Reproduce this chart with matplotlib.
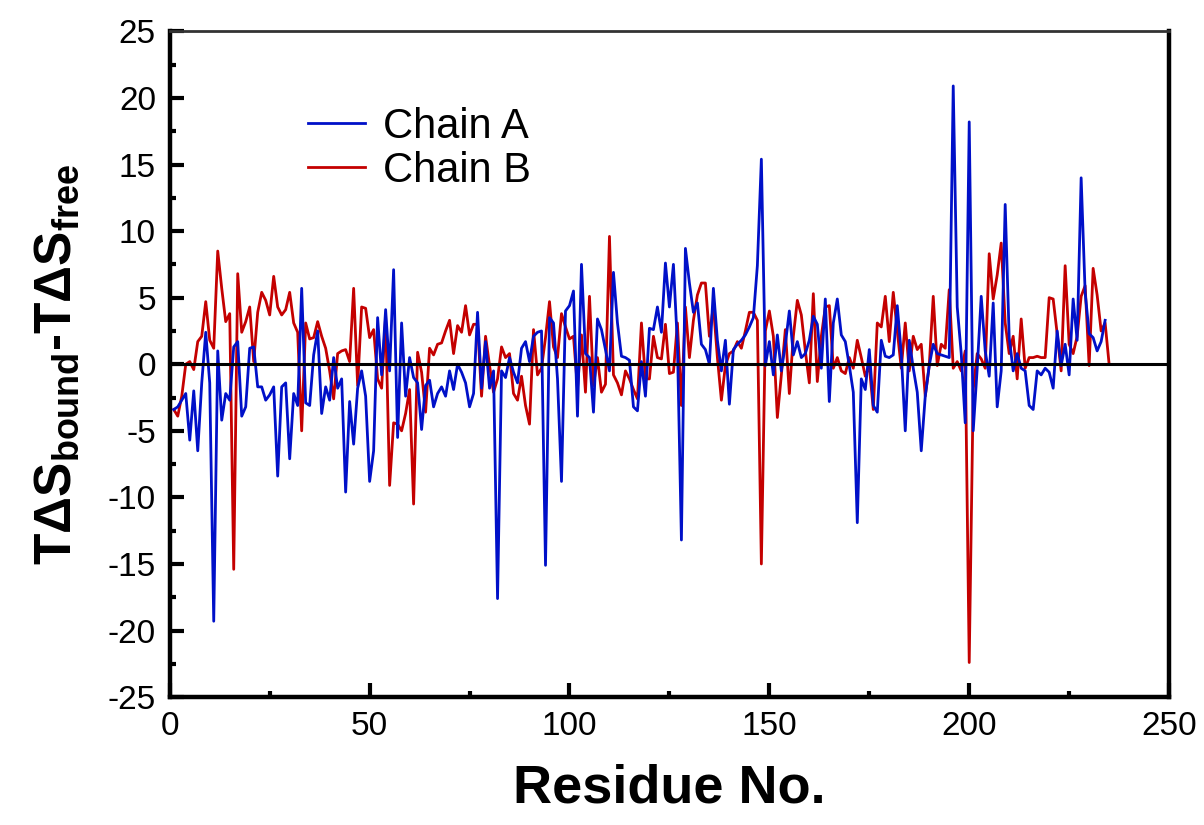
import matplotlib
matplotlib.use("Agg")
import matplotlib.pyplot as plt
from matplotlib.ticker import MultipleLocator

# T*dS(bound) - T*dS(free) per residue
chain_a = [
    -3.4, -3.2, -2.7, -2.2, -5.7, -2.0, -6.5, -1.4, 2.4, -1.4,
    -19.3, 1.0, -4.2, -2.2, -2.7, 1.3, 1.7, -3.9, -3.2, 1.2,
    1.3, -1.7, -1.7, -2.7, -2.3, -1.7, -8.4, -1.7, -1.4, -7.1,
    -2.2, -3.1, 5.7, -2.9, -3.1, 0.7, 2.5, -3.7, -1.7, -2.7,
    0.5, -1.8, -1.1, -9.6, -2.8, -6.0, -1.8, -0.5, -2.4, -8.8,
    -6.5, 3.5, -0.8, 4.1, -0.5, 7.1, -5.5, 3.1, -2.4, 0.5,
    -1.0, -1.4, -4.9, -1.6, -1.2, -3.2, -2.2, -1.7, -2.4, -0.5,
    -1.9, 0.0, -0.6, -1.4, -3.2, -2.2, 3.9, -1.8, 1.7, -1.8,
    -0.5, -17.6, -0.5, -1.0, 0.5, -0.6, -1.4, 1.2, 1.7, 0.2,
    2.1, 2.4, 2.5, -15.1, 3.5, 3.1, -1.1, -8.8, 4.0, 4.4,
    5.5, -3.9, 7.5, 0.8, 0.5, -3.6, 3.4, 2.6, 1.1, -0.5,
    6.9, 3.1, 0.6, 0.5, 0.3, -3.2, -3.5, 0.2, -2.4, 2.7,
    2.6, 4.3, 2.4, 7.6, 4.3, 7.5, 1.5, -13.2, 8.7, 6.1,
    3.9, 4.6, 1.5, 1.1, 0.0, 5.7, 1.8, -0.5, 1.8, -3.0,
    1.1, 1.5, 1.8, 2.2, 2.8, 3.5, 7.4, 15.4, -0.1, 1.7,
    -0.8, 2.2, -0.5, 1.5, 4.0, 0.7, 1.7, 0.5, 0.8, 1.8,
    3.6, 3.0, -0.3, 4.9, -2.8, 3.1, 4.9, 2.2, 1.7, -0.1,
    -2.1, -11.9, -1.1, -1.9, 1.1, -3.1, -3.6, 1.8, 0.6, 0.5,
    0.7, 4.4, 0.8, -5.0, 1.8, -0.3, -2.1, -6.5, -2.4, -0.1,
    1.5, 0.8, 0.7, 0.6, 0.5, 20.9, 4.3, 0.8, -4.4, 18.2,
    -5.0, -0.3, 5.1, 1.0, -0.9, 4.6, -3.2, -0.5, 12.0, 2.0,
    -0.5, 0.8, -0.3, -0.5, -3.1, -3.4, -0.5, -0.8, -0.3, -0.6,
    -1.8, 2.5, -0.1, 1.5, -0.8, 4.9, 1.8, 14.0, 5.4, 2.3,
    2.0, 1.0, 1.7, 3.3,
]

chain_b = [
    -3.4, -3.9, -2.4, 0.0, 0.2, -0.4, 1.7, 2.1, 4.7, 1.8,
    1.2, 8.5, 5.7, 3.2, 3.8, -15.4, 6.8, 2.4, 3.2, 4.3,
    0.2, 3.9, 5.4, 4.8, 3.7, 6.6, 4.3, 3.7, 4.1, 5.4,
    3.1, 2.4, -5.0, 3.1, 1.9, 2.0, 3.2, 2.1, 1.2, -0.5,
    -2.6, 0.8, 1.0, 1.1, 0.2, 5.7, -1.6, 4.3, 4.2, 2.0,
    2.6, -1.1, -1.8, 3.6, -9.1, -4.4, -4.5, -5.0, -3.7, -1.9,
    -10.5, 0.9, -0.6, -3.6, 1.2, 0.7, 1.5, 1.6, 2.5, 3.3,
    0.8, 2.9, 2.4, 4.4, 2.2, 3.0, 3.0, -2.4, 2.1, -0.1,
    -2.1, -1.1, 1.3, 0.5, 0.8, -2.2, -2.7, -0.9, -3.1, -4.5,
    2.6, -0.8, -0.3, 2.0, 4.7, 1.3, 0.5, 3.8, 2.8, 1.9,
    2.1, -1.8, 2.2, -2.1, 5.1, -1.6, 0.5, -2.1, -1.5, 9.6,
    -0.8, -1.4, -2.3, -0.5, -1.1, -1.9, -2.6, 3.1, -1.1, -1.1,
    2.1, 0.5, 0.4, 3.0, -0.7, -0.6, 3.1, -3.1, 4.3, 0.5,
    3.3, 5.2, 6.1, 6.1, 2.1, 4.4, 0.5, -2.7, -0.1, 0.8,
    1.0, 1.7, 1.2, 2.5, 3.9, 3.9, 3.3, -15.0, 2.5, 4.0,
    2.1, -4.0, -0.8, 2.6, -2.2, 2.1, 4.8, 3.7, 1.0, -1.4,
    5.3, -1.3, 2.1, 4.3, 4.4, -0.3, 0.5, -0.5, -0.7, 0.5,
    -0.3, 1.8, 0.5, -0.9, -0.1, -3.4, 3.1, 2.8, 5.1, 1.7,
    5.4, 2.5, -0.3, 3.1, -0.5, 2.1, 1.1, 1.5, -2.4, -0.1,
    5.1, -0.1, 1.5, 1.2, 5.6, -0.3, 0.2, -0.5, 1.0, -22.4,
    -1.9, 0.8, 0.4, -0.3, 8.3, 4.9, 6.7, 9.1, 3.1, 0.8,
    2.1, -1.1, 3.4, -0.3, 0.5, 0.5, 0.6, 0.5, 0.5, 5.0,
    4.9, 2.3, -0.5, 7.4, 1.5, 0.8, 2.1, 5.1, 5.9, -0.1,
    7.2, 5.2, 2.5, 3.1, 0.0,
]

res_a = list(range(1, len(chain_a) + 1))
res_b = list(range(1, len(chain_b) + 1))

plt.rcParams['font.family'] = ['Liberation Sans', 'DejaVu Sans']
plt.rcParams['mathtext.fontset'] = 'custom'
plt.rcParams['mathtext.rm'] = 'Liberation Sans:bold'
plt.rcParams['mathtext.bf'] = 'Liberation Sans:bold'
plt.rcParams['axes.unicode_minus'] = False

fig = plt.figure(figsize=(12.04, 8.25), dpi=100)
ax = fig.add_axes([0.141, 0.155, 0.830, 0.807])

ax.plot(res_a, chain_a, color='#0010C8', lw=2.0, label='Chain A', zorder=3)
ax.plot(res_b, chain_b, color='#C40000', lw=2.0, label='Chain B', zorder=2)
ax.axhline(0, color='black', lw=2.2, zorder=4)

ax.set_xlim(0, 250)
ax.set_ylim(-25, 25)
ax.xaxis.set_major_locator(MultipleLocator(50))
ax.xaxis.set_minor_locator(MultipleLocator(25))
ax.yaxis.set_major_locator(MultipleLocator(5))
ax.yaxis.set_minor_locator(MultipleLocator(2.5))

ax.tick_params(which='both', direction='in', top=False, right=False,
               labelsize=24, width=3, pad=10)
ax.tick_params(which='major', length=10)
ax.tick_params(which='minor', length=4)

for side in ['left', 'bottom', 'right']:
    ax.spines[side].set_linewidth(3.2)
ax.spines['top'].set_linewidth(2)
ax.spines['top'].set_color('#333333')

ax.set_xlabel('Residue No.', fontsize=39, fontweight='bold')
ax.xaxis.set_label_coords(0.5, -0.1)
ax.set_ylabel(r'T$\Delta$S$_{\mathbf{bound}}$-T$\Delta$S$_{\mathbf{free}}$',
              fontsize=37, fontweight='bold')
ax.yaxis.set_label_coords(-0.088, 0.5)

ax.legend(loc='upper left', bbox_to_anchor=(0.138, 0.887), frameon=False,
          fontsize=30, handlelength=1.37, handletextpad=0.43, labelspacing=0.1,
          borderpad=0, borderaxespad=0)

fig.savefig('out.png', dpi=100)
